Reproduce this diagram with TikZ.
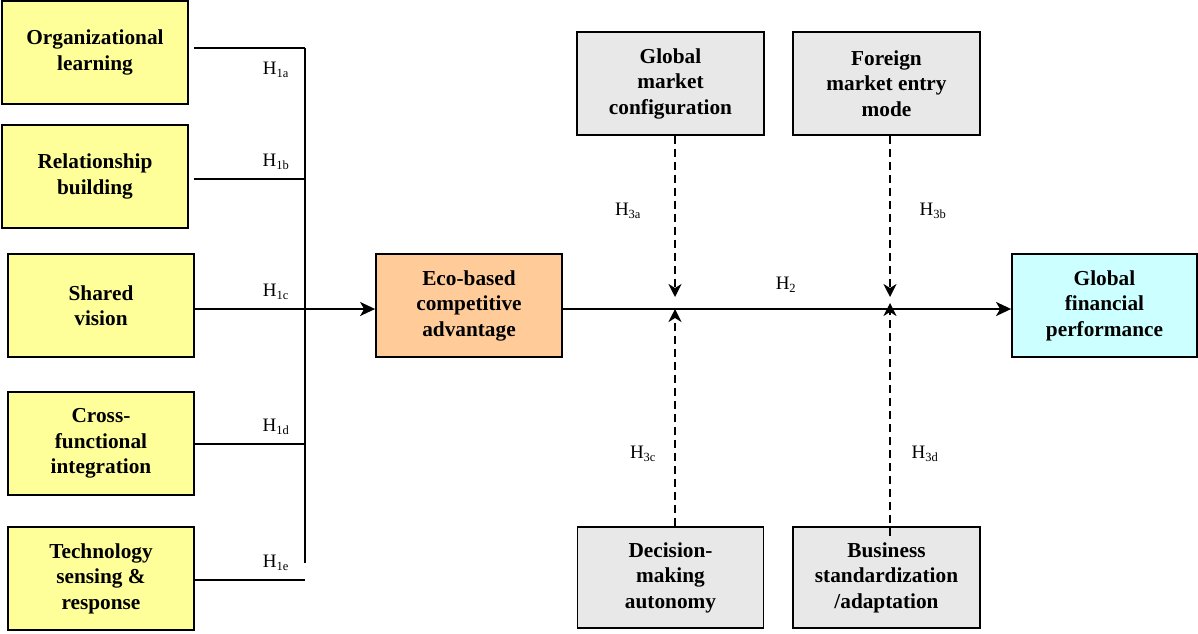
\documentclass[tikz,border=0pt]{standalone}
\usepackage{fontspec}
\setmainfont{Liberation Serif}
\usetikzlibrary{arrows.meta}
\definecolor{yel}{HTML}{FFFF99}
\definecolor{ora}{HTML}{FFCC99}
\definecolor{gry}{HTML}{E8E8E8}
\definecolor{cya}{HTML}{CCFFFF}
\tikzset{
  boxst/.style={draw=black, line width=1.8pt, minimum width=186pt, minimum height=103pt,
    inner sep=0pt, align=center, font=\bfseries\fontsize{21.3}{25.5}\selectfont},
  hlab/.style={inner sep=0pt, font=\fontsize{19}{22}\selectfont},
  conn/.style={line width=1.6pt},
  tipst/.style={-{Stealth[length=15pt, width=14pt, inset=4pt]}},
  mainarr/.style={line width=2.4pt, tipst},
  dasharr/.style={line width=2pt, dash pattern=on 8pt off 5pt, -{Stealth[length=13pt, width=13pt, inset=4pt, sep=0pt]}},
}
\newcommand{\hsub}[2]{H\textsubscript{\fontsize{12.5}{14}\selectfont #1#2}}
\begin{document}
\begin{tikzpicture}[x=1pt,y=-1pt]
\useasboundingbox (0,0) rectangle (1198,633);
% left boxes
\node[boxst, fill=yel] (ol) at (95,52.5) {Organizational\\learning};
\node[boxst, fill=yel] (rb) at (95,176.5) {Relationship\\building};
\node[boxst, fill=yel] (sv) at (101,305.5) {Shared\\vision};
\node[boxst, fill=yel] (cf) at (101,443.5) {Cross-\\functional\\integration};
\node[boxst, fill=yel] (ts) at (101,578.5) {Technology\\sensing \&\\response};
% central
\node[boxst, fill=ora] (eco) at (469,305.5) {Eco-based\\competitive\\advantage};
\node[boxst, fill=cya, minimum width=185pt] (gfp) at (1104.5,305.5) {Global\\financial\\performance};
% moderators
\node[boxst, fill=gry, minimum width=187pt] (gmc) at (670.5,83.5) {Global\\market\\configuration};
\node[boxst, fill=gry, minimum width=187pt] (fme) at (886.5,83.5) {Foreign\\market entry\\mode};
\node[boxst, fill=gry, minimum height=101pt] (dma) at (670.5,577.5) {Decision-\\making\\autonomy};
\node[boxst, fill=gry, minimum width=187pt, minimum height=101pt] (bsa) at (886.5,577.5) {Business\\standardization\\/adaptation};
% bus
\coordinate (vtop) at (305,48);
\coordinate (vbot) at (305,563);
\draw[conn] (vtop) -- (vbot);
\draw[conn] ([xshift=5pt,yshift=4.5pt]ol.east) -- (vtop);
\draw[conn] ([xshift=5pt,yshift=-2.5pt]rb.east) -- ([yshift=-2.5pt]rb.east -| vtop);
\draw[conn] ([yshift=-0.5pt]cf.east) -- ([yshift=-0.5pt]cf.east -| vtop);
\draw[conn] ([yshift=-1.5pt]ts.east) -- ([yshift=-1.5pt]ts.east -| vtop);
\draw[conn, tipst] ([yshift=-3.5pt]sv.east) -- ([yshift=-3.5pt]eco.west);
% main
\draw[mainarr] ([yshift=-3.5pt]eco.east) -- ([yshift=-3.5pt]gfp.west);
% junctions
\coordinate (j1) at (675,309);
\coordinate (j2) at (890,309);
\draw[dasharr] (gmc.south -| j1) -- ([yshift=12pt]j1);
\draw[dasharr] (dma.north -| j1) -- (j1);
\draw[dasharr] (fme.south -| j2) -- ([yshift=12pt]j2);
\draw[dasharr] ([yshift=-10pt]bsa.north -| j2) -- ([yshift=6pt]j2);
% labels
\node[hlab] (h1a) at (276,70) {\hsub{1}{a}};
\node[hlab] (h1b) at (276,162) {\hsub{1}{b}};
\node[hlab] (h1c) at (276,292) {\hsub{1}{c}};
\node[hlab] (h1d) at (276,427) {\hsub{1}{d}};
\node[hlab] (h1e) at (276,563) {\hsub{1}{e}};
\node[hlab] (h2) at (786,285) {H\textsubscript{\fontsize{12.5}{14}\selectfont 2}};
\node[hlab] (h3a) at (628,211) {\hsub{3}{a}};
\node[hlab] (h3b) at (933,211) {\hsub{3}{b}};
\node[hlab] (h3c) at (643,454) {\hsub{3}{c}};
\node[hlab] (h3d) at (925,454) {\hsub{3}{d}};
\end{tikzpicture}
\end{document}
